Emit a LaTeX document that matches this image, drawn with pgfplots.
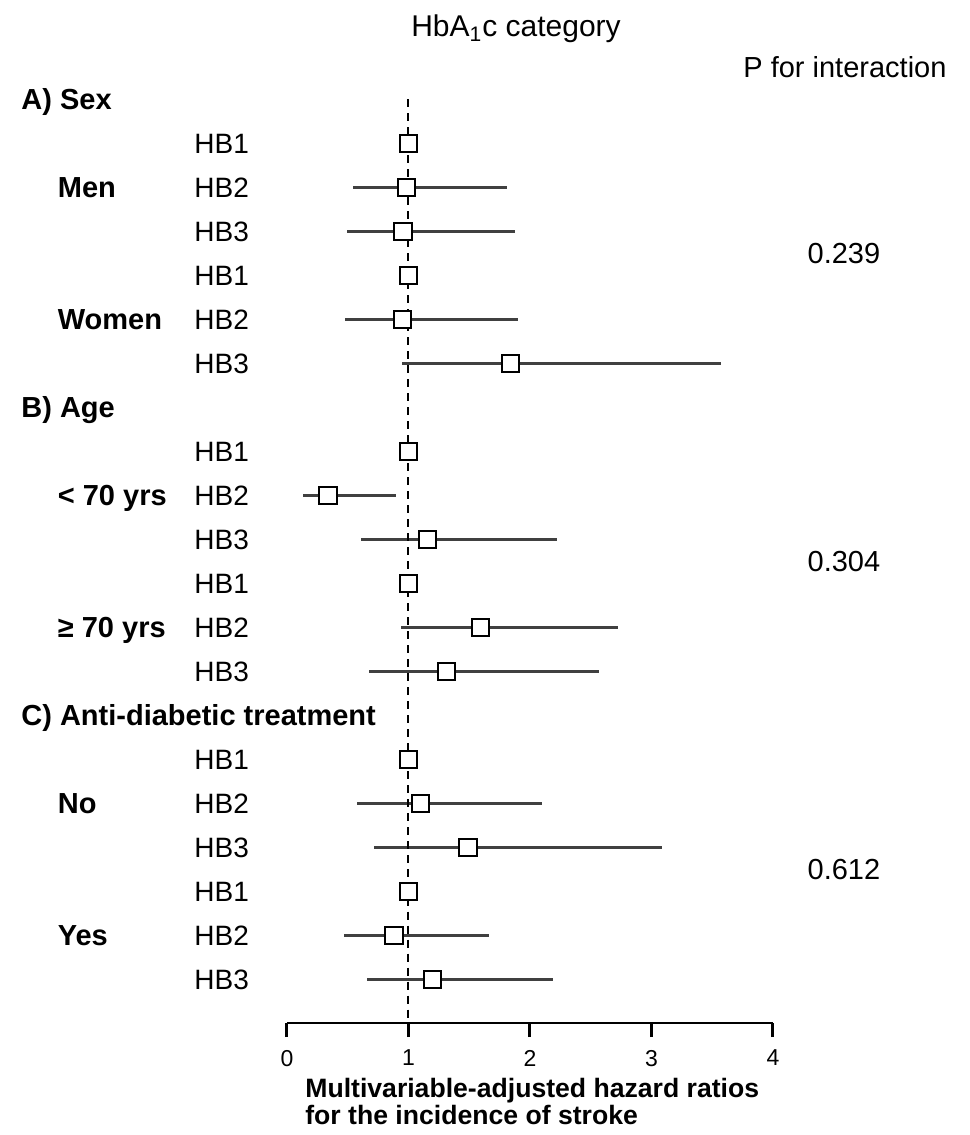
\documentclass[border=0pt]{standalone}
\usepackage{fontspec}
\setmainfont{Liberation Sans}
\usepackage{pgfplots}
\pgfplotsset{compat=1.18}
\usepackage{pgfplotstable}
\definecolor{ciGray}{HTML}{404040}

% row = position from top (0 = "A) Sex"), hr = hazard ratio, lo/hi = 95% CI
\pgfplotstableread{
row hr    lo    hi
2   0.985 0.54  1.81
3   0.953 0.49  1.874
5   0.95  0.48  1.90
6   1.84  0.95  3.57
9   0.34  0.13  0.895
10  1.157 0.607 2.225
12  1.594 0.936 2.727
13  1.314 0.672 2.57
16  1.10  0.579 2.10
17  1.488 0.72  3.086
19  0.879 0.472 1.66
20  1.199 0.658 2.19
}\cidata

\pgfplotstableread{
row hr
1   1
4   1
8   1
11  1
15  1
18  1
}\refdata

\begin{document}
\begin{tikzpicture}[
  hdr/.style={anchor=base west, inner sep=0pt, font=\bfseries\fontsize{14.5}{17}\selectfont, yshift=-5.2pt},
  hb/.style={anchor=base west, inner sep=0pt, font=\fontsize{14}{17}\selectfont, yshift=-5.0pt},
  pv/.style={anchor=base, inner sep=0pt, font=\fontsize{14.5}{17}\selectfont, yshift=-5.2pt},
]
\begin{axis}[
  width=243pt, height=461.8pt, scale only axis,
  xmin=0, xmax=4, ymin=-20.99, ymax=0,
  axis x line*=bottom, axis y line=none,
  x axis line style={line width=1pt, black},
  xtick={0,1,2,3,4},
  tick align=outside, major tick length=7pt,
  xtick style={line width=1.5pt, black},
  /pgf/number format/assume math mode=true,
  xticklabel style={font=\fontsize{11.5}{13}\selectfont, yshift=-3pt},
  clip=false,
]
% confidence intervals
\addplot[forget plot, only marks, mark=none,
  error bars/.cd, x dir=both, x explicit, error mark=none,
  error bar style={line width=1.5pt, draw=ciGray, solid}]
  table[x=hr, y expr=-\thisrow{row},
        x error plus expr=\thisrow{hi}-\thisrow{hr},
        x error minus expr=\thisrow{hr}-\thisrow{lo}] {\cidata};
% reference line
\addplot[forget plot, black, line width=1pt, dash pattern=on 4pt off 3pt]
  coordinates {(1,0) (1,-20.99)};
% point estimates
\addplot[forget plot, only marks, mark=square*, mark size=4.4pt,
  mark options={fill=white, draw=black, line width=1pt, solid}]
  table[x=hr, y expr=-\thisrow{row}] {\cidata};
\addplot[forget plot, only marks, mark=square*, mark size=4.4pt,
  mark options={fill=white, draw=black, line width=1pt, solid}]
  table[x=hr, y expr=-\thisrow{row}] {\refdata};

% titles
\node[anchor=base, inner sep=0pt, font=\fontsize{15}{18}\selectfont] at (axis cs:1.885,1.42) {HbA\textsubscript{1}c category};
\node[anchor=base west, inner sep=0pt, font=\fontsize{14.5}{17}\selectfont] at (axis cs:3.753,0.489) {P for interaction};

% group headers
\node[hdr] at (axis cs:-2.189,0) {A) Sex};
\node[hdr] at (axis cs:-2.189,-7) {B) Age};
\node[hdr] at (axis cs:-2.189,-14) {C) Anti-diabetic treatment};
% subgroup labels
\node[hdr] at (axis cs:-1.889,-2) {Men};
\node[hdr] at (axis cs:-1.889,-5) {Women};
\node[hdr] at (axis cs:-1.889,-9) {< 70 yrs};
\node[hdr] at (axis cs:-1.889,-12) {≥ 70 yrs};
\node[hdr] at (axis cs:-1.889,-16) {No};
\node[hdr] at (axis cs:-1.889,-19) {Yes};
% HB labels
\pgfplotsinvokeforeach{1,4,8,11,15,18}{\node[hb] at (axis cs:-0.765,-#1) {HB1};}
\pgfplotsinvokeforeach{2,5,9,12,16,19}{\node[hb] at (axis cs:-0.765,-#1) {HB2};}
\pgfplotsinvokeforeach{3,6,10,13,17,20}{\node[hb] at (axis cs:-0.765,-#1) {HB3};}
% P values
\node[pv] at (axis cs:4.584,-3.5) {0.239};
\node[pv] at (axis cs:4.584,-10.5) {0.304};
\node[pv] at (axis cs:4.584,-17.5) {0.612};
% x label
\node[anchor=base west, inner sep=0pt, font=\bfseries\fontsize{13.3}{16}\selectfont] at (axis cs:0.148,-22.69) {Multivariable-adjusted hazard ratios};
\node[anchor=base west, inner sep=0pt, font=\bfseries\fontsize{13.3}{16}\selectfont] at (axis cs:0.148,-23.29) {for the incidence of stroke};

\coordinate (tl) at (axis cs:-2.362,2.261);
\coordinate (br) at (axis cs:5.621,-23.533);
\end{axis}
\pgfresetboundingbox
\path (tl) rectangle (br);
\end{tikzpicture}
\end{document}
